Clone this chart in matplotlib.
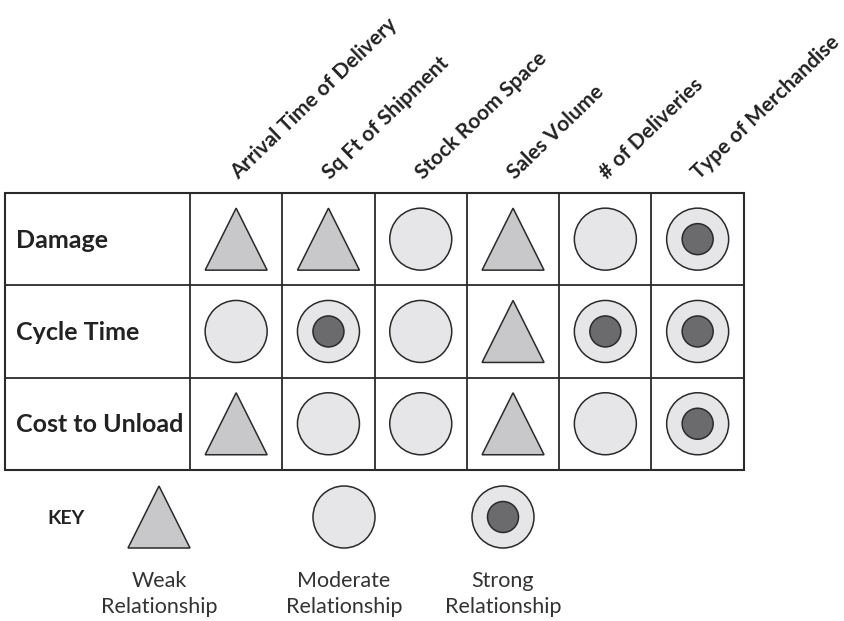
import matplotlib.pyplot as plt
from matplotlib.patches import Polygon, Circle, Rectangle

plt.rcParams['font.family'] = ['Lato', 'DejaVu Sans']

factors = ["Arrival Time of Delivery", "Sq Ft of Shipment", "Stock Room Space",
           "Sales Volume", "# of Deliveries", "Type of Merchandise"]
issues = ["Damage", "Cycle Time", "Cost to Unload"]
# 1 = weak, 2 = moderate, 3 = strong
strength = [[1, 1, 2, 1, 2, 3],
            [2, 3, 2, 1, 3, 3],
            [1, 2, 2, 1, 2, 3]]
key_labels = ["Weak\nRelationship", "Moderate\nRelationship", "Strong\nRelationship"]

tri_col = "#c8c8ca"
circ_col = "#e6e6e8"
dark_col = "#6b6b6d"
edge = "#2a2a2a"

fig = plt.figure(figsize=(8.45, 6.21), dpi=100)
ax = fig.add_axes([0, 0, 1, 1])
ax.set_xlim(0, 845)
ax.set_ylim(621, 0)
ax.axis("off")

left, label_w, top = 5, 185, 193
cw, rh = 92.3, 92.3
size = 62


def draw_symbol(cx, cy, kind):
    h = size / 2
    if kind == 1:
        ax.add_patch(Polygon([(cx, cy - h), (cx - h, cy + h), (cx + h, cy + h)],
                             closed=True, fc=tri_col, ec=edge, lw=1.1, zorder=3))
    else:
        ax.add_patch(Circle((cx, cy), h, fc=circ_col, ec=edge, lw=1.1, zorder=3))
        if kind == 3:
            ax.add_patch(Circle((cx, cy), h / 2, fc=dark_col, ec=edge, lw=1.1, zorder=4))


# grid
x0 = left + label_w
ncol, nrow = len(factors), len(issues)
right = x0 + ncol * cw
bottom = top + nrow * rh
ax.add_patch(Rectangle((left, top), right - left, bottom - top, fill=False,
                       ec=edge, lw=1.5, zorder=2))
for j in range(ncol + 1):
    ax.plot([x0 + j * cw] * 2, [top, bottom], color=edge, lw=1.3, zorder=2)
for i in range(1, nrow):
    ax.plot([left, right], [top + i * rh] * 2, color=edge, lw=1.3, zorder=2)

for i, name in enumerate(issues):
    cy = top + (i + 0.5) * rh
    ax.text(left + 11, cy + 1, name, fontsize=18, fontweight="bold", color="#222222",
            ha="left", va="center")
    for j in range(ncol):
        draw_symbol(x0 + (j + 0.5) * cw, cy, strength[i][j])

for j, f in enumerate(factors):
    ax.text(x0 + (j + 0.5) * cw + 2, top - 13, f, fontsize=15, fontweight="bold",
            color="#222222", rotation=44, rotation_mode="anchor",
            ha="left", va="baseline")

# key
ax.text(47, 518, "KEY", fontsize=14, fontweight="bold", color="#222222",
        ha="left", va="center")
key_x = [159, 344, 503]
for k, (kx, lab) in enumerate(zip(key_x, key_labels)):
    draw_symbol(kx, 517, k + 1)
    ax.text(kx, 594, lab, fontsize=15.5, color="#333333", ha="center", va="center",
            linespacing=1.35)

fig.savefig("out.png", dpi=100)
